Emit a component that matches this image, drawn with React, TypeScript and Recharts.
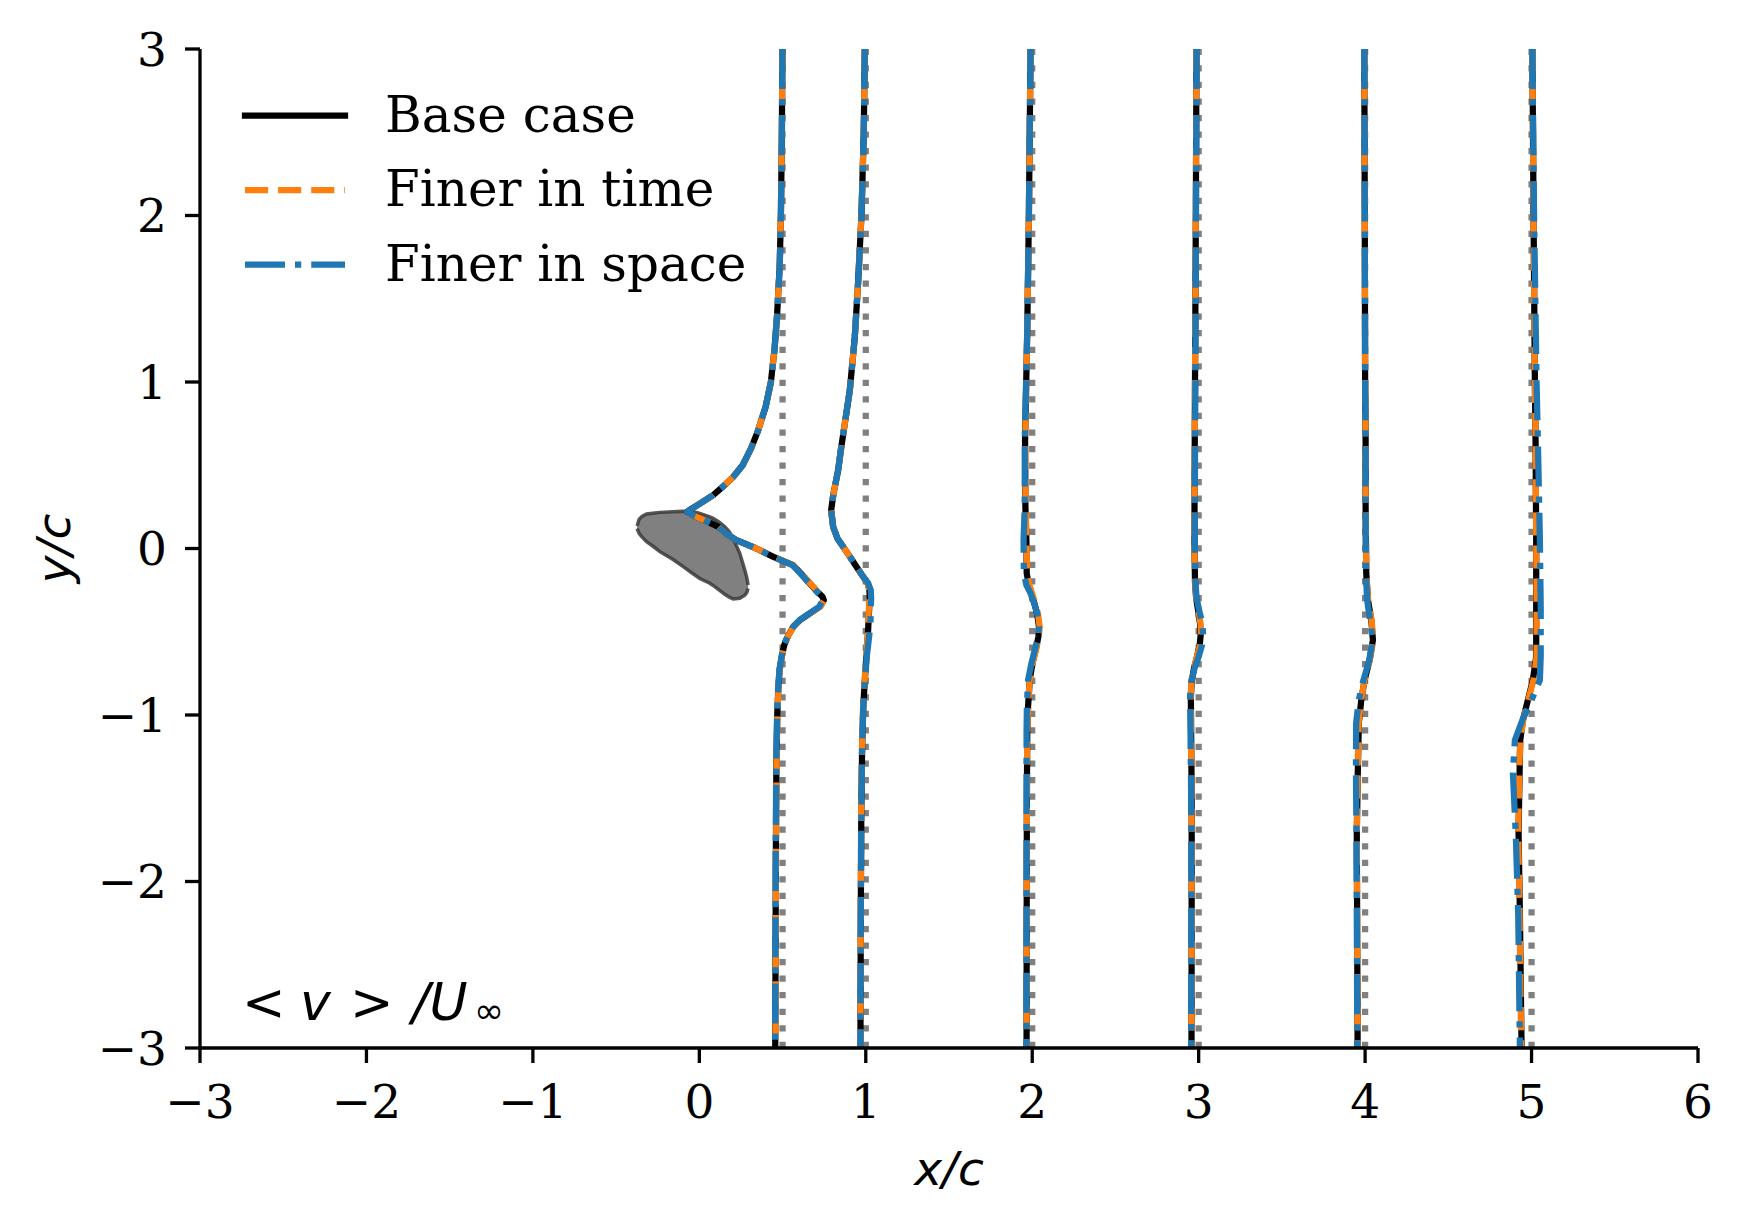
import React from 'react';
import { ComposedChart, Line, Area, XAxis, YAxis, Legend } from 'recharts';

// ---------- axes ----------
const X_TICKS = [-3, -2, -1, 0, 1, 2, 3, 4, 5, 6];
const Y_TICKS = [-3, -2, -1, 0, 1, 2, 3];
const STATIONS = [0.5, 1, 2, 3, 4, 5];
const SERIES_NAMES = ['Base case', 'Finer in time', 'Finer in space'];

// ---------- airfoil (range: lower / upper surface) ----------
const AIRFOIL_X = [-0.374, -0.362, -0.345, -0.317, -0.28, -0.237, -0.16, -0.097, -0.04, 0.003, 0.063, 0.083, 0.12, 0.153, 0.18, 0.203, 0.243, 0.273, 0.285, 0.293];
const AIRFOIL_LO = [0.12, 0.091, 0.07, 0.041, 0.015, -0.019, -0.065, -0.109, -0.15, -0.18, -0.209, -0.222, -0.25, -0.275, -0.292, -0.303, -0.299, -0.28, -0.265, -0.24];
const AIRFOIL_HI = [0.135, 0.175, 0.192, 0.207, 0.212, 0.217, 0.221, 0.224, 0.222, 0.211, 0.19, 0.181, 0.158, 0.131, 0.1, 0.061, -0.029, -0.129, -0.175, -0.219];

// ---------- profiles: station x/c = 0.5 ----------
const Y_05 = [3.0, 2.5, 2.0, 1.7, 1.4, 1.2, 1.0, 0.85, 0.7, 0.6, 0.5, 0.43, 0.37, 0.32, 0.27, 0.24, 0.22, 0.2, 0.17, 0.13, 0.09, 0.05, 0.0, -0.05, -0.1, -0.15, -0.2, -0.25, -0.29, -0.31, -0.35, -0.39, -0.43, -0.47, -0.52, -0.58, -0.65, -0.73, -0.85, -1.0, -1.3, -1.8, -2.4, -3.0];
const BASE_05 = [0.499, 0.496, 0.49, 0.483, 0.467, 0.452, 0.43, 0.398, 0.35, 0.31, 0.26, 0.203, 0.14, 0.083, 0.003, -0.045, -0.073, -0.04, 0.03, 0.115, 0.16, 0.223, 0.343, 0.445, 0.563, 0.61, 0.655, 0.7, 0.74, 0.748, 0.724, 0.664, 0.604, 0.565, 0.535, 0.51, 0.495, 0.482, 0.474, 0.468, 0.463, 0.46, 0.458, 0.456];
const TIME_05 = [0.499, 0.496, 0.49, 0.483, 0.467, 0.452, 0.43, 0.398, 0.35, 0.31, 0.26, 0.203, 0.14, 0.083, 0.003, -0.045, -0.073, -0.04, 0.03, 0.115, 0.16, 0.223, 0.343, 0.447, 0.565, 0.613, 0.658, 0.703, 0.742, 0.75, 0.726, 0.666, 0.606, 0.566, 0.536, 0.511, 0.496, 0.483, 0.475, 0.469, 0.464, 0.461, 0.459, 0.457];
const SPACE_05 = [0.499, 0.496, 0.49, 0.483, 0.467, 0.452, 0.43, 0.398, 0.35, 0.31, 0.26, 0.203, 0.14, 0.083, 0.003, -0.045, -0.073, -0.04, 0.03, 0.115, 0.16, 0.223, 0.343, 0.443, 0.56, 0.607, 0.652, 0.697, 0.735, 0.742, 0.72, 0.662, 0.602, 0.563, 0.533, 0.508, 0.494, 0.481, 0.473, 0.467, 0.462, 0.459, 0.457, 0.455];

// ---------- station x/c = 1 ----------
const Y_1 = [3.0, 2.5, 2.0, 1.6, 1.27, 0.95, 0.75, 0.59, 0.47, 0.33, 0.23, 0.13, 0.06, 0.01, -0.05, -0.11, -0.16, -0.21, -0.25, -0.3, -0.37, -0.45, -0.53, -0.65, -0.81, -0.95, -1.2, -1.6, -2.2, -3.0];
const BASE_1 = [0.994, 0.988, 0.974, 0.954, 0.934, 0.904, 0.874, 0.85, 0.834, 0.806, 0.792, 0.804, 0.83, 0.864, 0.905, 0.944, 0.978, 1.012, 1.022, 1.024, 1.02, 1.016, 1.012, 1.004, 0.993, 0.985, 0.978, 0.973, 0.97, 0.968];
const TIME_1 = [0.994, 0.988, 0.974, 0.954, 0.934, 0.904, 0.874, 0.85, 0.834, 0.806, 0.792, 0.804, 0.83, 0.864, 0.905, 0.944, 0.978, 1.012, 1.02, 1.022, 1.018, 1.015, 1.011, 1.003, 0.992, 0.984, 0.977, 0.972, 0.97, 0.968];
const SPACE_1 = [0.994, 0.988, 0.974, 0.954, 0.934, 0.904, 0.874, 0.85, 0.834, 0.806, 0.792, 0.804, 0.83, 0.864, 0.905, 0.944, 0.978, 1.015, 1.03, 1.032, 1.03, 1.028, 1.02, 1.006, 0.993, 0.985, 0.978, 0.973, 0.97, 0.968];

// ---------- station x/c = 2 ----------
const Y_2 = [3.0, 2.0, 1.3, 0.65, 0.25, 0.05, -0.15, -0.22, -0.27, -0.33, -0.39, -0.47, -0.53, -0.59, -0.69, -0.79, -0.95, -1.11, -1.5, -2.0, -3.0];
const BASE_2 = [1.99, 1.98, 1.97, 1.957, 1.959, 1.965, 1.967, 1.98, 1.995, 2.013, 2.029, 2.041, 2.037, 2.025, 2.001, 1.985, 1.975, 1.97, 1.968, 1.967, 1.966];
const TIME_2 = [1.99, 1.98, 1.97, 1.958, 1.96, 1.966, 1.969, 1.983, 1.999, 2.018, 2.034, 2.045, 2.04, 2.027, 2.002, 1.985, 1.975, 1.97, 1.968, 1.967, 1.966];
const SPACE_2 = [1.99, 1.98, 1.97, 1.955, 1.955, 1.948, 1.95, 1.965, 1.99, 2.012, 2.03, 2.04, 2.035, 2.02, 1.995, 1.975, 1.968, 1.966, 1.966, 1.966, 1.965];

// ---------- station x/c = 3 ----------
const Y_3 = [3.0, 2.0, 1.0, 0.3, 0.0, -0.2, -0.3, -0.38, -0.45, -0.52, -0.58, -0.65, -0.72, -0.8, -0.9, -1.0, -1.5, -2.0, -3.0];
const BASE_3 = [2.987, 2.983, 2.978, 2.975, 2.975, 2.978, 2.985, 2.998, 3.008, 3.012, 3.006, 2.99, 2.972, 2.958, 2.953, 2.954, 2.958, 2.958, 2.957];
const TIME_3 = [2.987, 2.983, 2.978, 2.975, 2.975, 2.978, 2.986, 3.0, 3.011, 3.015, 3.008, 2.99, 2.97, 2.956, 2.952, 2.953, 2.957, 2.958, 2.957];
const SPACE_3 = [2.988, 2.984, 2.98, 2.977, 2.977, 2.98, 2.988, 3.005, 3.022, 3.027, 3.02, 3.0, 2.975, 2.955, 2.948, 2.95, 2.955, 2.956, 2.955];

// ---------- station x/c = 4 ----------
const Y_4 = [3.0, 2.0, 1.0, 0.65, 0.25, -0.15, -0.31, -0.43, -0.55, -0.67, -0.79, -0.91, -1.05, -1.35, -1.71, -2.2, -3.0];
const BASE_4 = [3.995, 3.998, 4.0, 4.003, 4.003, 4.007, 4.017, 4.037, 4.047, 4.027, 3.997, 3.977, 3.962, 3.956, 3.95, 3.952, 3.955];
const TIME_4 = [3.995, 3.998, 4.0, 4.003, 4.003, 4.007, 4.018, 4.039, 4.049, 4.028, 3.997, 3.976, 3.961, 3.955, 3.95, 3.952, 3.955];
const SPACE_4 = [3.995, 3.998, 4.0, 4.003, 4.003, 4.005, 4.012, 4.03, 4.045, 4.025, 3.99, 3.962, 3.946, 3.945, 3.948, 3.95, 3.953];

// ---------- station x/c = 5 ----------
const Y_5 = [3.0, 2.0, 1.0, 0.65, 0.05, -0.35, -0.65, -0.79, -0.91, -1.03, -1.15, -1.35, -1.71, -2.2, -3.0];
const BASE_5 = [5.005, 5.012, 5.02, 5.024, 5.028, 5.028, 5.028, 5.008, 4.978, 4.948, 4.932, 4.928, 4.922, 4.93, 4.94];
const TIME_5 = [5.005, 5.012, 5.02, 5.024, 5.028, 5.03, 5.03, 5.012, 4.98, 4.95, 4.932, 4.926, 4.92, 4.928, 4.938];
const SPACE_5 = [5.005, 5.015, 5.03, 5.038, 5.05, 5.055, 5.055, 5.05, 5.0, 4.945, 4.9, 4.888, 4.905, 4.92, 4.93];

// ---------- build tables ----------
const PROFILE_Y = [Y_05, Y_1, Y_2, Y_3, Y_4, Y_5];
const PROFILE_X = [
  [BASE_05, TIME_05, SPACE_05],
  [BASE_1, TIME_1, SPACE_1],
  [BASE_2, TIME_2, SPACE_2],
  [BASE_3, TIME_3, SPACE_3],
  [BASE_4, TIME_4, SPACE_4],
  [BASE_5, TIME_5, SPACE_5],
];

const LW = 6.25;
const STYLES = [
  { color: '#000000', dash: undefined as string | undefined, cap: 'square' as const },
  { color: '#ff7f0e', dash: '23.1 10', cap: 'butt' as const },
  { color: '#1f77b4', dash: '40 10 6.25 10', cap: 'butt' as const },
];

const airfoilData = AIRFOIL_X.map((x, i) => ({ x, range: [AIRFOIL_LO[i], AIRFOIL_HI[i]] }));
const stationData = STATIONS.map((s) => [
  { x: s, y: -3 },
  { x: s, y: 3 },
]);
const profileData = PROFILE_X.map((trio, si) =>
  trio.map((xs) => PROFILE_Y[si].map((y, i) => ({ x: xs[i], y })))
);

const fmt = (v: number) => (v < 0 ? '\u2212' + Math.abs(v) : String(v));

const W = 1744;
const H = 1223;
const LEFT = 200;
const TOP = 49;
const RIGHT = 1698;
const BOTTOM = 1048;

const renderLegend = () => (
  <svg width={490} height={230} style={{ display: 'block', overflow: 'visible' }}>
    {SERIES_NAMES.map((name, i) => (
      <g key={name}>
        <line
          x1={17}
          x2={117}
          y1={35.5 + i * 74.5}
          y2={35.5 + i * 74.5}
          stroke={STYLES[i].color}
          strokeWidth={LW}
          strokeDasharray={STYLES[i].dash}
          strokeLinecap={STYLES[i].cap}
        />
        <text x={157} y={51.7 + i * 74.5} fontFamily="DejaVu Serif" fontSize={50} fill="#000">
          {name}
        </text>
      </g>
    ))}
  </svg>
);

export default function App() {
  return (
    <div style={{ margin: -8, position: 'relative', width: W, height: H, background: '#fff' }}>
      <ComposedChart
        width={W}
        height={H}
        margin={{ top: TOP, left: LEFT - 100, right: W - RIGHT, bottom: H - BOTTOM - 100 }}
      >
        <XAxis
          type="number"
          dataKey="x"
          domain={[-3, 6]}
          ticks={X_TICKS}
          interval={0}
          allowDataOverflow
          height={100}
          tickFormatter={fmt}
          tickSize={15}
          tickMargin={22}
          axisLine={{ stroke: '#000', strokeWidth: 3.3 }}
          tickLine={{ stroke: '#000', strokeWidth: 3.3 }}
          tick={{ fontFamily: 'DejaVu Serif', fontSize: 47, fill: '#000' }}
        />
        <YAxis
          type="number"
          domain={[-3, 3]}
          ticks={Y_TICKS}
          interval={0}
          allowDataOverflow
          width={100}
          tickFormatter={fmt}
          tickSize={15}
          tickMargin={18}
          axisLine={{ stroke: '#000', strokeWidth: 3.3 }}
          tickLine={{ stroke: '#000', strokeWidth: 3.3 }}
          tick={{ fontFamily: 'DejaVu Serif', fontSize: 47, fill: '#000' }}
        />
        <Legend
          layout="vertical"
          align="center"
          verticalAlign="middle"
          content={renderLegend}
          wrapperStyle={{ left: 228, top: 80, width: 490, height: 230 }}
        />
        {stationData.map((d, i) => (
          <Line
            key={'st' + i}
            data={d}
            dataKey="y"
            type="linear"
            stroke="#808080"
            strokeWidth={LW}
            strokeDasharray="6.25 10.3"
            strokeLinecap="butt"
            dot={false}
            activeDot={false}
            legendType="none"
            isAnimationActive={false}
          />
        ))}
        <Area
          data={airfoilData}
          dataKey="range"
          type="linear"
          fill="#808080"
          fillOpacity={1}
          stroke="#3a3a3a"
          strokeOpacity={0.85}
          strokeWidth={3.5}
          dot={false}
          activeDot={false}
          legendType="none"
          isAnimationActive={false}
        />
        {profileData.map((trio, si) =>
          trio.map((pts, k) => (
            <Line
              key={'p' + si + '-' + k}
              data={pts}
              dataKey="y"
              type="linear"
              stroke={STYLES[k].color}
              strokeWidth={LW}
              strokeDasharray={STYLES[k].dash}
              strokeLinecap={STYLES[k].cap}
              strokeLinejoin="round"
              dot={false}
              activeDot={false}
              legendType="none"
              isAnimationActive={false}
            />
          ))
        )}
      </ComposedChart>
      <svg
        width={W}
        height={H}
        style={{ position: 'absolute', left: 0, top: 0, pointerEvents: 'none' }}
      >
        <text
          x={(LEFT + RIGHT) / 2}
          y={1185}
          textAnchor="middle"
          fontFamily="DejaVu Sans"
          fontStyle="italic"
          fontSize={47}
          fill="#000"
        >
          x/c
        </text>
        <text
          x={70}
          y={(TOP + BOTTOM) / 2}
          textAnchor="middle"
          fontFamily="DejaVu Sans"
          fontStyle="italic"
          fontSize={47}
          fill="#000"
          transform={`rotate(-90 70 ${(TOP + BOTTOM) / 2})`}
        >
          y/c
        </text>
        <text y={1020} fontFamily="DejaVu Sans" fontSize={52} fill="#000">
          <tspan x={242}>&lt;</tspan>
          <tspan x={300} fontStyle="italic">v</tspan>
          <tspan x={350}>&gt;</tspan>
          <tspan x={412} fontStyle="italic">/U</tspan>
          <tspan x={474} fontSize={36} dy={3}>
            ∞
          </tspan>
        </text>
      </svg>
    </div>
  );
}
